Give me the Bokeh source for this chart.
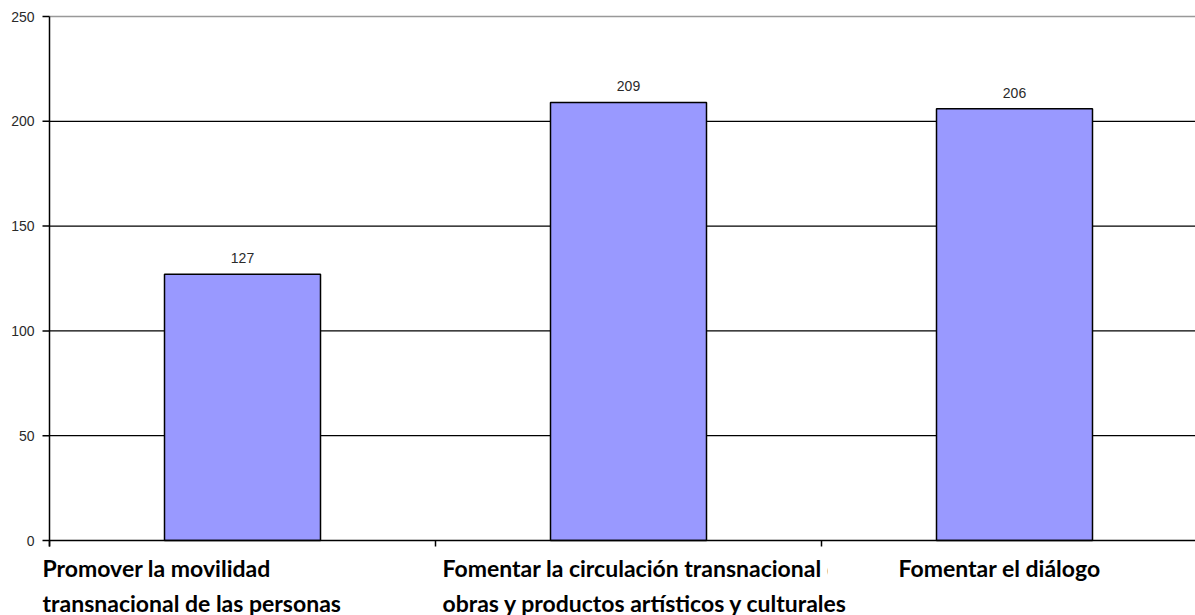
from bokeh.plotting import figure
from bokeh.models import Range1d
from bokeh.core.properties import value
from bokeh.embed import file_html
from bokeh.resources import INLINE

categories = [
    "Promover la movilidad\ntransnacional de las personas",
    "Fomentar la circulación transnacional de\nobras y productos artísticos y culturales",
    "Fomentar el diálogo",
]
values = [127, 209, 206]
y_ticks = [0, 50, 100, 150, 200, 250]

W, H = 1195, 615
X0_PX = 49        # page x of the value axis
Y0_PX = 540       # page y of value 0
PX_X = 386.0      # px per category
PX_Y = 524 / 250.0

def px_x(d):
    return d / PX_X

def px_y(d):
    return d / PX_Y

x_lo = -px_x(X0_PX)
x_hi = px_x(W - X0_PX)
y_lo = -px_y(H - Y0_PX)
y_hi = 250 + px_y(16)

p = figure(width=W, height=H, output_backend="svg", toolbar_location=None,
           x_range=Range1d(x_lo, x_hi), y_range=Range1d(y_lo, y_hi),
           min_border_left=0, min_border_right=0, min_border_top=0, min_border_bottom=0)
p.outline_line_color = None
p.background_fill_color = "white"
p.xaxis.visible = False
p.yaxis.visible = False
p.grid.visible = False

n = len(values)
xc = [i + 0.5 for i in range(n)]

# grid lines (50..200 black, 250 gray)
grid_vals = y_ticks[1:-1]
p.segment(x0=[0] * len(grid_vals), y0=grid_vals, x1=[x_hi] * len(grid_vals), y1=grid_vals,
          line_color="black", line_width=1.2)
p.segment(x0=[0], y0=[y_ticks[-1]], x1=[x_hi], y1=[y_ticks[-1]], line_color="#999999", line_width=1.5)

# bars
p.vbar(x=xc, top=values, width=px_x(156), bottom=0, fill_color="#9999FF",
       line_color="black", line_width=1.5)

# value labels
p.text(x=xc, y=[v + px_y(16) for v in values], text=[str(v) for v in values],
       text_align="center", text_baseline="middle", text_font=value("Liberation Sans"),
       text_font_size="14px", text_color="#2a2a2a")

# value axis
tick_x = px_x(7)
p.segment(x0=[0], y0=[-px_y(6)], x1=[0], y1=[y_ticks[-1]], line_color="black", line_width=1.5)
p.segment(x0=[-tick_x] * len(y_ticks), y0=y_ticks, x1=[0] * len(y_ticks), y1=y_ticks,
          line_color="black", line_width=1.5)
p.text(x=[-px_x(15)] * len(y_ticks), y=y_ticks, text=[str(t) for t in y_ticks],
       text_align="right", text_baseline="middle", text_font=value("Liberation Sans"),
       text_font_size="14px", text_color="#2a2a2a")

# category axis
p.segment(x0=[0], y0=[0], x1=[x_hi], y1=[0], line_color="black", line_width=1.5)
bounds = list(range(n + 1))
p.segment(x0=bounds, y0=[0] * len(bounds), x1=bounds, y1=[-px_y(6)] * len(bounds),
          line_color="black", line_width=1.5)

# category labels
offsets = [-7, 7, 77]
for i, cat in enumerate(categories):
    lines = cat.split("\n")
    if i == 2:
        # the third label's box hides the end of the previous first line
        p.quad(left=[i + px_x(6)], right=[x_hi], top=[-px_y(10)],
               bottom=[-px_y(47)], fill_color="white", line_color=None)
    p.text(x=[i + px_x(offsets[i])] * len(lines),
           y=[-px_y(27 + 35 * j) for j in range(len(lines))],
           text=lines, text_font=value("Lato"), text_font_style="bold",
           text_font_size="23px", text_color="black", text_baseline="alphabetic",
           text_align="left")

open("out.html", "w").write(file_html(p, INLINE))
